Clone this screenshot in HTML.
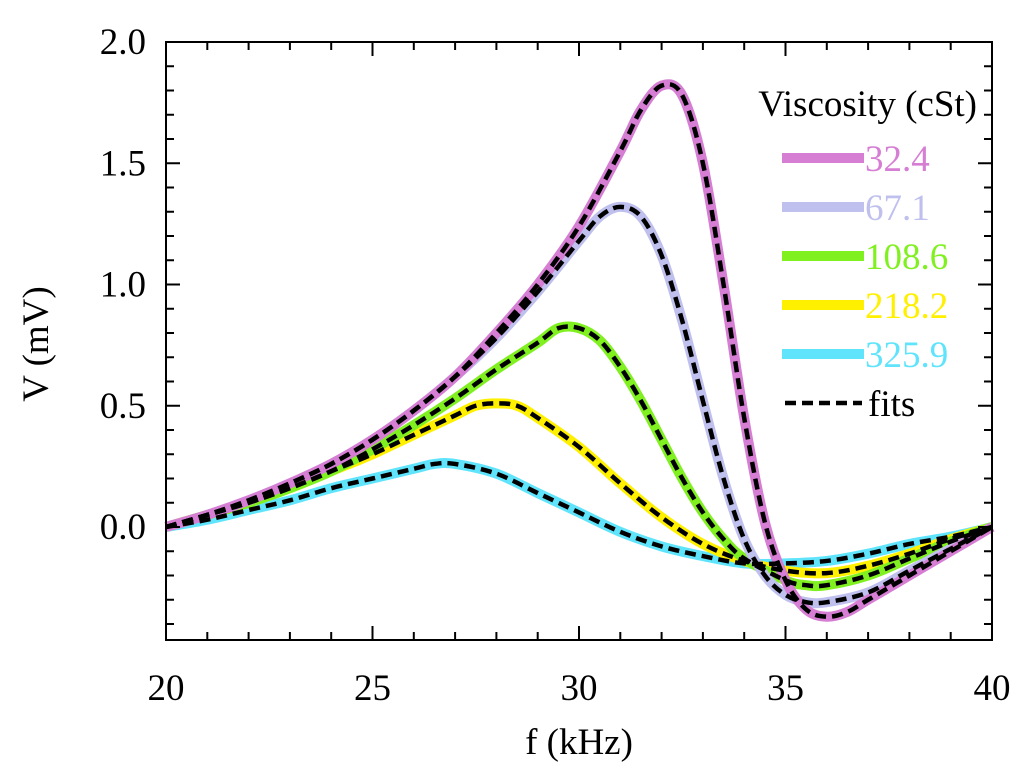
<!DOCTYPE html>
<html><head><meta charset="utf-8"><style>
body{margin:0;background:#fff}
svg text{font-family:"Liberation Serif","DejaVu Serif",serif}
</style></head><body>
<svg id="c" width="1024" height="779"></svg>
<script>
const xTicks=[20,25,30,35,40];
const yTicks=[0.0,0.5,1.0,1.5,2.0];
const seriesNames=["32.4","67.1","108.6","218.2","325.9"];
const seriesColors=["#d67ed4","#c0c0ee","#80f020","#fff000","#60e4fc"];
const f1=[20,21,22,23,24,25,26,27,28,29,30,31,31.5,32,32.5,33,33.5,34,34.5,35,35.5,36,36.5,37,38,39,40];
const v1=[0,0.05,0.11,0.18,0.26,0.36,0.48,0.62,0.80,1.00,1.24,1.55,1.72,1.82,1.78,1.5,1.0,0.45,0.02,-0.22,-0.34,-0.37,-0.35,-0.3,-0.2,-0.1,0];
const f2=[20,21,22,23,24,25,26,27,28,29,30,30.5,31,31.5,32,32.5,33,33.5,34,34.5,35,35.5,36,37,38,39,40];
const v2=[0,0.05,0.11,0.18,0.26,0.36,0.48,0.62,0.78,0.97,1.18,1.28,1.32,1.28,1.12,0.85,0.52,0.2,-0.05,-0.2,-0.28,-0.31,-0.31,-0.27,-0.18,-0.09,0];
const f3=[20,21,22,23,24,25,26,27,28,29,29.5,30,30.5,31,31.5,32,32.5,33,33.5,34,35,35.5,36,37,38,39,40];
const v3=[0,0.05,0.1,0.16,0.23,0.32,0.42,0.53,0.65,0.76,0.82,0.82,0.77,0.66,0.52,0.36,0.2,0.06,-0.05,-0.13,-0.22,-0.24,-0.24,-0.2,-0.13,-0.06,0];
const f4=[20,21,22,23,24,25,26,27,27.5,28,28.5,29,30,31,32,33,34,35,36,37,38,39,40];
const v4=[0,0.05,0.1,0.16,0.23,0.3,0.38,0.46,0.5,0.51,0.5,0.45,0.33,0.18,0.04,-0.07,-0.14,-0.18,-0.19,-0.16,-0.11,-0.05,0];
const f5=[20,21,22,23,24,25,26,26.5,27,28,29,30,31,32,33,34,35,36,37,38,39,40];
const v5=[0,0.03,0.07,0.11,0.16,0.2,0.24,0.26,0.26,0.22,0.14,0.06,-0.02,-0.08,-0.12,-0.15,-0.15,-0.14,-0.11,-0.07,-0.04,0];
const fs=[f1,f2,f3,f4,f5], vs=[v1,v2,v3,v4,v5];

const L=166,R=992,T=42,B=640;
const FONT='"Liberation Serif", serif';
const X=f=>L+(f-20)/20*(R-L);
const Y=v=>527-v*242.5;
const svg=document.getElementById('c');
const NS="http://www.w3.org/2000/svg";
function mk(t,a,p){const e=document.createElementNS(NS,t);for(const k in a)e.setAttribute(k,a[k]);if(t==='text')e.setAttribute('font-family',FONT);(p||svg).appendChild(e);return e;}
function smooth(xs,ys){let pts=xs.map((x,i)=>[X(x),Y(ys[i])]);let d="M"+pts[0][0]+","+pts[0][1];
for(let i=0;i<pts.length-1;i++){const p0=pts[i-1]||pts[i],p1=pts[i],p2=pts[i+1],p3=pts[i+2]||p2;
const c1=[p1[0]+(p2[0]-p0[0])/6,p1[1]+(p2[1]-p0[1])/6],c2=[p2[0]-(p3[0]-p1[0])/6,p2[1]-(p3[1]-p1[1])/6];
d+=`C${c1[0]},${c1[1]} ${c2[0]},${c2[1]} ${p2[0]},${p2[1]}`;}return d;}

for(let s=4;s>=0;s--){
const e=mk('path',{d:smooth(fs[s],vs[s]),fill:'none',stroke:seriesColors[s],'stroke-width':10,'stroke-linejoin':'round'});


}
for(let s=4;s>=0;s--){
const e=mk('path',{d:smooth(fs[s],vs[s]),fill:'none',stroke:'#000','stroke-width':4.5,'stroke-dasharray':'11,6'});


}
const fr=mk('rect',{x:L,y:T,width:R-L,height:B-T,fill:'none',stroke:'#000','stroke-width':2});


for(let f=20;f<=40;f++){const maj=f%5==0,len=maj?14:8;
mk('line',{x1:X(f),x2:X(f),y1:B,y2:B-len,stroke:'#000','stroke-width':2});
mk('line',{x1:X(f),x2:X(f),y1:T,y2:T+len,stroke:'#000','stroke-width':2});}
for(let i=-4;i<=20;i++){const v=i/10;const y=Y(v);if(y>B||y<T-1)continue;const maj=i%5==0,len=maj?14:8;
mk('line',{x1:L,x2:L+len,y1:y,y2:y,stroke:'#000','stroke-width':2});
mk('line',{x1:R,x2:R-len,y1:y,y2:y,stroke:'#000','stroke-width':2});}
xTicks.forEach(t=>{const e=mk('text',{x:X(t),y:700,'text-anchor':'middle','font-size':37});e.textContent=t;

});
yTicks.forEach(t=>{const e=mk('text',{x:146,y:Y(t)+12,'text-anchor':'end','font-size':37});e.textContent=t.toFixed(1);

});
let e=mk('text',{x:579,y:754,'text-anchor':'middle','font-size':37});e.textContent='f (kHz)';


e=mk('text',{x:0,y:0,'text-anchor':'middle','font-size':37,transform:'translate(48,344) rotate(-90)'});e.textContent='V (mV)';


e=mk('text',{x:977,y:116,'text-anchor':'end','font-size':37});e.textContent='Viscosity (cSt)';


for(let s=0;s<5;s++){const y=158+s*49;
const g=mk('g',{});


mk('line',{x1:782,x2:864,y1:y,y2:y,stroke:seriesColors[s],'stroke-width':10},g);
const t=mk('text',{x:865,y:y+13,'font-size':37,fill:seriesColors[s]},g);t.textContent=seriesNames[s];}
const g=mk('g',{});


mk('line',{x1:785,x2:862,y1:403,y2:403,stroke:'#000','stroke-width':4.5,'stroke-dasharray':'11,6'},g);
const t=mk('text',{x:868,y:416,'font-size':37},g);t.textContent='fits';
</script>
</body></html>
